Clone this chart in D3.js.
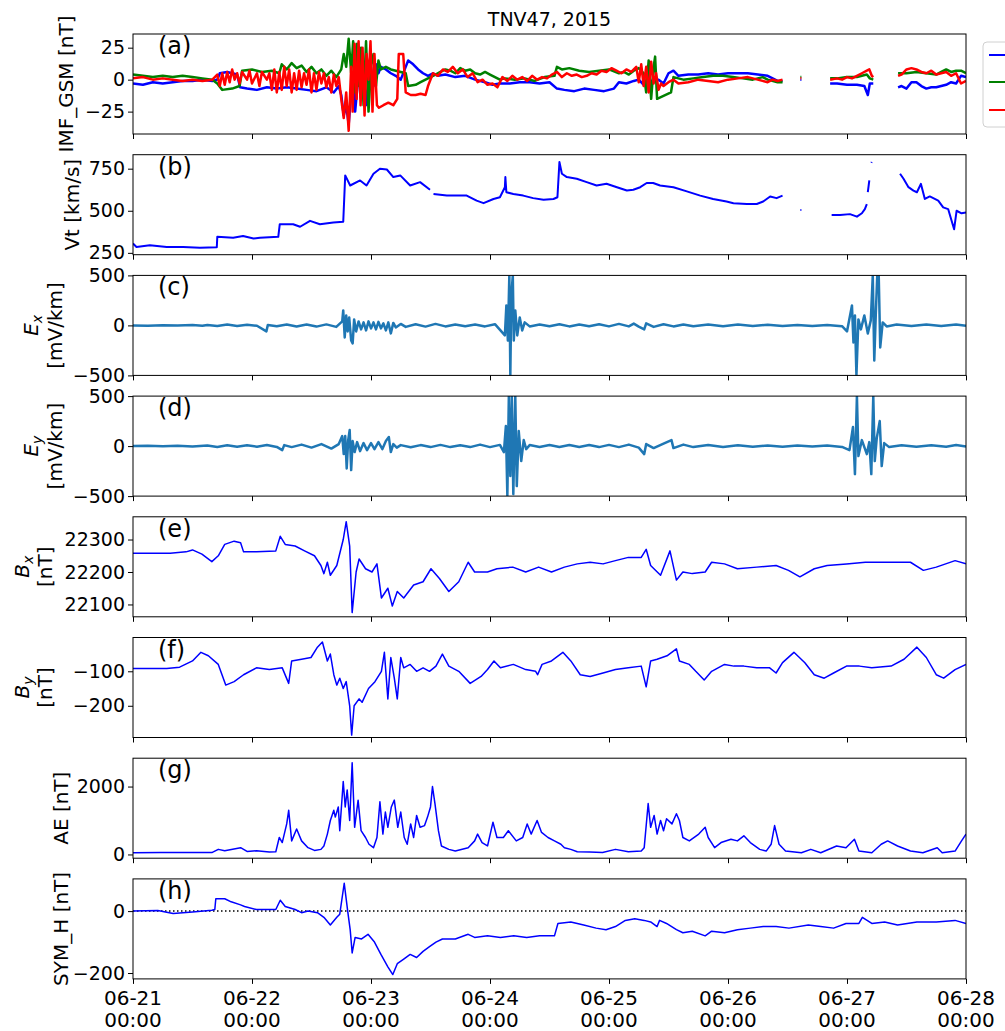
<!DOCTYPE html>
<html lang="en">
<head>
  <meta charset="UTF-8">
  <script src="https://cdn.jsdelivr.net/npm/d3@7"></script>
  <title>TNV47, 2015</title>
  <style>
    body { margin: 0; background: #fff; }
    text { font-family: "DejaVu Sans", sans-serif; fill: #000; }
  </style>
</head>
<body>
  <svg width="1005" height="1031"></svg>
  <script>
    // time axis: hours since 06-21 00:00
    var dayTicks = [0, 24, 48, 72, 96, 120, 144, 168];
    var dayLabels = ["06-21", "06-22", "06-23", "06-24", "06-25", "06-26", "06-27", "06-28"];

    // (a) IMF GSM components [hour, nT], null = data gap
    var imfBx = [[0,-3],[2,-4],[4,-2],[6,-3],[8,-2],[10,-1],[12,-1],[14,0],[16,-1],[17,0],[17.5,5],[19,6],[21,4],[21.6,-6],[23,-7],[25,-8],[27,-6],[29,-7],[31,-6],[33,-7],[35,-8],[37,-9],[39,-6],[40.5,-10],[41.5,-5],[42,-12],[42.5,-28],[43,-20],[43.5,-35],[44,-10],[44.4,5],[44.8,-25],[45.2,-8],[45.6,10],[46,-15],[46.5,5],[47,-20],[47.5,0],[48,10],[48.5,-5],[49,12],[49.5,5],[50,10],[51,8],[52,5],[53,3],[54,0],[55,10],[55.5,15],[56.5,12],[57.5,8],[58.5,5],[59.5,3],[60.5,5],[61.5,3],[63,4],[65,2],[67,3],[69,0],[71,-2],[72.5,-4],[74,-3],[76,-3],[78,-2],[80,-2],[82,-3],[84,-2],[85.5,-7],[87,-8],[89,-9],[91,-7],[93,-8],[95,-9],[97,-7],[98,-2],[99.5,-3],[101,-1],[102,0],[103,-4],[104,0],[105,-2],[106,0],[107,-3],[108,5],[109,7],[110,3],[112,4],[114,4],[116,5],[118,4],[120,5],[122,5],[124,5],[126,4],[128,3],[129,1],[130,-1],[131,-1],[131.2,null],[134.6,0],[134.8,0],[135,null],[140.6,-3],[142,-3],[144,-4],[146,-4],[147.5,-5],[148.2,-12],[148.6,-3],[149.3,-3],[149.5,null],[154.3,-6],[155,-5],[156,-7],[157,-2],[158,-2],[159,-5],[160,-7],[161,-6],[162,-6],[163,-5],[164,-4],[165,-2],[166,-3],[167,3],[168,2]];
    var imfBy = [[0,4],[2,3],[4,2],[6,3],[8,2],[10,3],[12,2],[14,1],[16,0],[17,-3],[18,-8],[20,-7],[21.5,-5],[22,7],[24,8],[26,6],[28,7],[29.5,5],[30,12],[31,8],[32,13],[33,9],[34,11],[35,6],[36,10],[37,5],[38,8],[39,3],[40,7],[41,2],[42,8],[42.5,20],[43,10],[43.5,32],[44,5],[44.4,30],[44.8,-10],[45.2,28],[45.6,-5],[46,25],[46.5,-20],[47,30],[47.5,-25],[48,10],[48.5,20],[49,-5],[49.5,15],[50,8],[51,10],[52,8],[53,7],[54,6],[55,5],[55.5,-5],[57,-4],[58,-2],[59,0],[60,2],[61,4],[62,6],[63,8],[64,7],[65,5],[66,9],[67,7],[68,8],[69,5],[70,4],[71,6],[72,4],[73,2],[74,0],[75,1],[77,0],[79,1],[81,-1],[83,2],[85,3],[85.5,10],[86.5,8],[88,9],[90,7],[92,6],[94,7],[96,8],[98,5],[99,6],[100,4],[101,7],[102,9],[103,5],[103.5,-10],[104,15],[104.5,-15],[105,10],[105.3,18],[105.7,-15],[108.5,-10],[109,2],[111,0],[113,1],[115,2],[117,3],[119,3],[121,2],[123,1],[125,0],[127,2],[128,0],[130,-2],[131,-2],[131.2,null],[134.6,2],[134.8,2],[135,null],[140.6,1],[142,1],[144,2],[146,2],[147,3],[148,4],[148.6,1],[149.3,0],[149.5,null],[154.3,5],[156,5],[158,6],[160,5],[162,4],[163,6],[164,8],[165,6],[166,7],[167,7],[168,5]];
    var imfBz = [[0,1],[2,2],[4,0],[6,1],[8,0],[10,-1],[12,0],[14,-1],[16,0],[17,4],[17.5,-5],[18,5],[18.5,-4],[19,6],[19.5,-2],[20,8],[20.5,0],[21,5],[21.5,-3],[22,6],[23,0],[23.5,7],[24,-3],[25,5],[25.5,-5],[26,6],[27,0],[27.5,5],[28,-8],[28.5,8],[29,-10],[29.5,6],[30,-8],[30.5,10],[31,-5],[31.5,8],[32,-10],[32.5,5],[33,-8],[33.5,7],[34,-6],[34.5,5],[35,-4],[35.5,8],[36,-10],[36.5,5],[37,-8],[37.5,6],[38,-3],[38.5,5],[39,-6],[39.5,2],[40,-10],[40.5,4],[41,-5],[41.5,2],[42,-15],[42.5,-30],[43,-10],[43.5,-40],[44,10],[44.3,-25],[44.7,28],[45.1,-15],[45.5,30],[45.9,-20],[46.3,25],[46.7,-28],[47.1,20],[47.5,0],[47.9,30],[48.3,-25],[48.7,20],[49.2,-20],[49.6,-22],[50.5,-20],[51.5,-18],[52.5,-20],[53.3,-15],[53.6,20],[54.5,20],[55,-10],[56,-12],[57,-12],[58,-11],[59,-12],[59.5,-5],[60.5,5],[61.5,3],[62.5,8],[63.5,6],[64.5,10],[65.5,5],[66.5,8],[67.5,2],[68.5,5],[69.5,-2],[70.5,0],[71.5,-4],[72.5,-3],[73.5,-6],[74.5,2],[75.5,-1],[76.5,3],[77.5,0],[78.5,2],[79.5,-1],[80.5,3],[81.5,0],[82.5,2],[83.5,1],[84.5,4],[85.5,6],[86.5,2],[87.5,5],[88.5,3],[89.5,4],[90.5,2],[91.5,3],[92.5,5],[93.5,4],[94.5,7],[95.5,6],[96.5,9],[97.5,7],[98.5,5],[99.5,8],[100.5,6],[101.5,10],[102,-2],[102.5,12],[103,-5],[103.5,10],[104,-10],[104.5,14],[105,-3],[105.5,5],[106,-8],[106.5,-3],[107,-5],[108,-2],[109,0],[110,-3],[112,-2],[114,0],[116,-1],[118,-2],[120,0],[122,1],[124,2],[126,0],[128,-2],[129,0],[130,-1],[131,0],[131.2,null],[134.6,1],[134.8,1],[135,null],[140.6,0],[142,1],[143,0],[144,2],[145,1],[146,3],[147,5],[148,7],[148.5,8],[149,3],[149.3,2],[149.5,null],[154.3,3],[155,4],[156,8],[157,9],[158,8],[159,6],[160,5],[161,7],[162,4],[163,5],[164,6],[165,3],[166,5],[167,-3],[168,-1]];

    // (b) solar wind speed [hour, km/s]
    var vt = [[0,305],[0.7,285],[3.4,295],[6.8,285],[10.1,285],[13.5,280],[16.9,283],[17,345],[20.2,340],[22.2,350],[24.3,335],[25.6,340],[29.3,345],[29.6,420],[32.3,420],[33.7,405],[35.7,440],[37.7,420],[40.4,430],[42.4,435],[42.8,710],[43.8,650],[45.8,680],[47.1,650],[48.5,720],[49.8,750],[51.2,745],[52.5,700],[53.9,710],[55.9,650],[57.9,670],[59.9,625],[60.3,null],[60.6,600],[63.3,590],[66,590],[67.3,590],[69.3,560],[70.7,545],[72.7,570],[74,580],[75,640],[75.1,700],[75.3,610],[76.7,600],[78.7,590],[80.7,575],[82.8,565],[84.8,570],[85.6,580],[86,790],[86.5,720],[87.5,700],[89.5,690],[91.5,670],[93.5,650],[95.5,660],[97.6,640],[99.6,620],[100.9,625],[102.3,640],[103.6,665],[104.9,665],[106.3,650],[109,640],[111.7,615],[114.4,590],[117,570],[119.7,555],[121.1,545],[123.8,540],[125.8,540],[127.1,555],[127.8,570],[128.5,585],[129.8,575],[131,590],[131.2,null],[134.6,505],[134.8,505],[135,null],[140.9,475],[142.6,475],[144.6,480],[146,465],[147,485],[147.6,510],[148,540],[148.1,null],[148.2,610],[148.5,680],[148.7,null],[148.9,785],[149,790],[149.2,null],[154.7,720],[155.4,690],[156.4,640],[157.4,620],[158.1,610],[158.9,660],[159.7,570],[160.7,585],[161.4,575],[162.4,560],[163.4,520],[164.4,510],[165.6,390],[166.1,500],[167.1,485],[168,490]];

    // (c) E_x and (d) E_y [hour, mV/km]
    var ex = [[0,0],[3,-3],[6,2],[9,-2],[12,4],[14,-4],[15,5],[17,-6],[19,8],[21,-5],[23,6],[25,-4],[26.9,-60],[27.2,5],[29,-8],[31,10],[33,-10],[35,8],[37,-12],[39,10],[41,-15],[42.2,40],[42.4,150],[42.7,-120],[43,100],[43.3,-60],[43.6,80],[44,-150],[44.3,-180],[44.6,60],[45,-60],[45.5,40],[46,-40],[46.5,30],[47,-50],[47.5,40],[48,-30],[48.5,30],[49,-40],[49.5,35],[50,-30],[50.5,20],[51,-50],[51.5,30],[52,-80],[52.5,25],[53,-20],[54,15],[55,-15],[57,12],[59,-12],[61,15],[63,-10],[65,10],[67,-8],[69,8],[71,-10],[73,12],[75,-100],[75.3,200],[75.6,-150],[75.9,500],[76.1,-500],[76.3,300],[76.6,500],[76.8,-150],[77.1,150],[77.5,-100],[78,80],[78.5,-50],[79,30],[80,-10],[82,10],[84,-8],[86,12],[88,-10],[90,10],[92,-8],[94,12],[96,-10],[98,15],[100,-10],[101,18],[102,-12],[103.1,-40],[103.5,20],[105,-15],[107,12],[109,-10],[111,10],[113,-8],[116,8],[119,-8],[122,8],[125,-6],[128,6],[131,-6],[134,5],[137,-5],[140,5],[143,-8],[144,-60],[145,200],[145.3,-170],[145.6,100],[145.9,-500],[146.3,60],[146.8,-40],[147.5,100],[148.2,-80],[148.8,50],[149.2,500],[149.5,-350],[149.8,100],[150.1,500],[150.4,500],[150.7,-220],[151.2,30],[152,-10],[154,8],[157,-6],[160,8],[163,-6],[166,8],[168,-4]];
    var ey = [[0,0],[3,3],[6,-2],[9,3],[12,-4],[15,5],[17,-8],[19,8],[21,-6],[23,8],[25,-6],[27,10],[29,-8],[30.1,-40],[30.5,10],[32,-10],[34,15],[36,-15],[38,20],[40,-25],[41.5,20],[42.2,100],[42.5,-80],[42.8,100],[43.1,-223],[43.4,60],[43.7,160],[44,-240],[44.3,50],[44.7,-60],[45.2,40],[45.8,-50],[46.5,30],[47.2,-40],[48,30],[48.7,-30],[49.5,40],[50.3,-30],[51,50],[51.6,90],[52,-60],[52.5,20],[53.2,-15],[54,10],[56,-12],[58,10],[60,-10],[62,12],[64,-10],[66,8],[68,-10],[70,15],[72,-10],[74,12],[74.8,-60],[75.2,200],[75.5,-500],[75.8,500],[76.1,-300],[76.4,500],[76.7,-480],[77.1,500],[77.4,-400],[77.8,150],[78.3,-150],[78.8,60],[79.3,-30],[80,10],[82,-8],[84,10],[86,-8],[88,10],[90,-8],[92,10],[94,-10],[96,12],[98,-10],[100,15],[102,-15],[103.1,-80],[103.5,20],[105,-20],[107,25],[108.6,60],[109,-20],[111,15],[113,-10],[116,10],[119,-8],[122,8],[125,-6],[128,6],[131,-6],[134,5],[137,-5],[140,6],[143,-8],[144.5,-40],[145.2,190],[145.6,-280],[146,500],[146.3,-100],[147,60],[148,-80],[148.5,40],[148.9,-280],[149.3,500],[149.6,-150],[150,80],[150.6,250],[151,-200],[151.5,30],[152.5,-10],[155,8],[158,-6],[161,8],[164,-6],[166,10],[168,-3]];

    // (e) B_x and (f) B_y ground magnetometer [hour, nT]
    var bx = [[0,22258],[7.5,22258],[10.7,22262],[12,22268],[13.9,22255],[15.9,22232],[17.2,22250],[18.5,22285],[20.4,22295],[21.7,22290],[22.3,22262],[24.9,22262],[28.8,22265],[29.7,22310],[30.7,22285],[32.7,22280],[34.6,22265],[36.6,22250],[37.9,22220],[38.5,22195],[39.2,22230],[39.8,22190],[41.1,22220],[42.4,22300],[43,22355],[43.7,22280],[44.2,22075],[45,22200],[45.6,22240],[46.9,22210],[48.2,22200],[49.2,22225],[50.1,22120],[51.4,22150],[52.3,22095],[53.3,22140],[54.6,22120],[56.6,22160],[58.5,22170],[60.1,22210],[61.8,22180],[63.7,22140],[65.7,22170],[67.6,22230],[68.9,22200],[71.5,22200],[73.4,22210],[76.6,22215],[79.2,22200],[81.8,22215],[84.4,22200],[87,22215],[89.6,22225],[92.2,22230],[94.8,22225],[97.3,22235],[99.9,22245],[102.5,22245],[103.5,22270],[104.4,22220],[106.4,22190],[108.3,22265],[109.6,22175],[110.9,22200],[112.8,22195],[115.4,22200],[116.7,22230],[119.3,22225],[121.9,22210],[125.8,22215],[129.7,22220],[132.2,22205],[134.5,22185],[137.4,22210],[140,22220],[143.9,22225],[147.7,22230],[151.6,22230],[156.8,22230],[159.4,22205],[162,22215],[165.8,22235],[168,22225]];
    var by = [[0,-92],[6.8,-92],[9.4,-88],[12,-70],[13.7,-45],[15.2,-55],[17.2,-80],[18.7,-140],[20.4,-130],[22.3,-110],[24.9,-90],[27.5,-95],[30.1,-90],[31.4,-135],[32,-70],[34,-65],[35.9,-60],[37.2,-30],[38.2,-15],[39.2,-70],[39.8,-50],[40.5,-110],[41.1,-140],[41.7,-120],[42.4,-150],[43,-130],[43.7,-200],[44.1,-285],[44.6,-200],[45.6,-180],[46.2,-190],[47.5,-150],[48.8,-130],[50.1,-100],[50.7,-45],[51.4,-180],[52,-60],[52.7,-120],[53.3,-180],[54,-60],[54.6,-90],[55.9,-80],[57.2,-100],[58.5,-90],[59.8,-100],[61.1,-85],[62.4,-50],[63.7,-85],[65.7,-100],[68,-135],[70.2,-115],[71.5,-95],[72.8,-70],[74.1,-90],[76.7,-80],[79.2,-95],[81.2,-100],[81.6,-110],[82.5,-80],[84.4,-70],[86.7,-45],[88.3,-70],[90.2,-110],[92.2,-115],[94.8,-105],[97.3,-95],[99.9,-90],[102.5,-85],[103.5,-145],[104.4,-70],[105.7,-65],[107.7,-55],[109.6,-35],[110.2,-70],[112.2,-80],[113.5,-100],[115.2,-125],[116.7,-100],[119.3,-80],[121.2,-85],[123.2,-85],[125.8,-90],[128.4,-90],[129.7,-105],[131,-75],[133.3,-45],[135.5,-75],[137.4,-110],[139.4,-120],[141.3,-105],[143.9,-85],[146.5,-85],[149,-90],[152.9,-85],[155.5,-65],[158.1,-30],[160,-60],[162,-110],[163.5,-120],[165.8,-95],[168,-80]];

    // (g) AE index [hour, nT]
    var ae = [[0,50],[5.6,55],[12,60],[15.9,55],[17.2,150],[18.5,110],[21.7,200],[23,90],[24.9,110],[27.5,70],[28.8,80],[29.5,500],[30.1,350],[31,900],[31.4,1300],[32,400],[33,750],[34,400],[35.3,200],[36.6,120],[37.9,150],[38.5,250],[39.2,600],[39.8,1000],[40.5,1300],[40.8,1100],[41.4,1400],[41.7,700],[42.4,2150],[42.8,1400],[43.2,1900],[43.7,1000],[44.2,2700],[44.7,800],[45.4,1600],[46,700],[46.9,500],[47.6,300],[48.5,200],[49.2,500],[49.8,1550],[50.4,600],[50.9,1250],[51.4,800],[52.1,1400],[52.7,1600],[53.4,800],[54,1250],[54.7,500],[55.3,300],[56,900],[56.6,500],[57.2,1150],[57.9,800],[58.8,850],[59.4,1100],[60,1400],[60.4,2000],[60.9,1500],[61.6,700],[62.2,250],[63.7,150],[65,100],[67.6,200],[68.9,400],[69.5,600],[70.4,350],[71.5,250],[72.6,950],[73.4,500],[74.7,500],[75.7,700],[77.3,400],[78.6,500],[79.5,900],[80.3,600],[81.5,1000],[82.4,650],[83.7,500],[85,400],[86.3,300],[87,200],[88.3,150],[89.6,80],[92.1,70],[94.7,60],[97.3,150],[99.9,80],[102.5,100],[103.1,200],[103.9,1500],[104.4,800],[105.1,1150],[105.7,600],[106.4,1000],[107,700],[107.6,1050],[108.7,900],[109.6,1200],[110.2,1000],[110.9,500],[112.2,400],[114.1,600],[115.4,800],[116,500],[117.3,200],[118.6,350],[120.6,450],[121.9,400],[123.2,550],[124.5,350],[126.4,150],[127.7,100],[128.7,300],[129.4,850],[130.3,300],[131.6,100],[134.8,50],[136.7,150],[138.7,50],[141.9,250],[143.8,200],[145.5,450],[146.4,100],[149,50],[150.9,300],[152.2,400],[154.2,250],[156.8,100],[159.3,50],[162.2,200],[163.2,50],[165.8,100],[167.1,400],[168,600]];

    // (h) SYM-H index [hour, nT]
    var symh = [[0,0],[5,2],[8.1,-8],[12,-3],[15.9,3],[16.5,5],[16.7,40],[18.5,40],[19.8,30],[21.7,20],[22.5,15],[24.9,5],[28.8,5],[29.7,35],[30.7,15],[32.7,5],[34,-5],[35.3,0],[37.2,-5],[38.5,-20],[39.8,-45],[41.1,-20],[41.7,-10],[42.6,90],[43.3,0],[43.8,-60],[44.2,-135],[44.8,-85],[46.1,-90],[47.4,-75],[48.7,-100],[50,-140],[51.4,-180],[52.4,-205],[53.3,-170],[54.6,-155],[55.9,-140],[57.2,-150],[58.5,-130],[59.8,-115],[61.1,-100],[62.4,-90],[65,-90],[67.6,-75],[68.9,-85],[71.5,-80],[74.1,-85],[76.8,-80],[79.4,-85],[82,-80],[85,-80],[85.7,-40],[88.3,-35],[90.9,-45],[93.4,-55],[95.4,-60],[97.3,-50],[99.3,-30],[101.2,-25],[103.1,-30],[104.4,-35],[105.7,-50],[106.2,-30],[107.6,-40],[109.6,-60],[110.9,-70],[112.8,-65],[115.4,-80],[116.7,-65],[119.3,-70],[121.9,-60],[124.5,-55],[127.1,-50],[129.7,-50],[132.3,-55],[136.2,-45],[138.7,-50],[141.3,-55],[143.8,-40],[146.4,-40],[147.1,-20],[149,-40],[151.6,-35],[154.2,-45],[158.1,-35],[162,-35],[165.8,-30],[168,-40]];

    var svg = d3.select("svg");
    var left = 133, right = 966, top0 = 34, step = 120.7, ph = 100;
    var x = d3.scaleLinear().domain([0, 168]).range([left, right]);
    var fmt = d3.format("d"); // plain integers with a real minus sign

    svg.append("text")
      .attr("x", (left + right) / 2).attr("y", 26)
      .attr("text-anchor", "middle").style("font-size", "19px")
      .text("TNV47, 2015");

    // one panel: frame, ticks, label, clip; returns y scale and group
    function panel(i, domain, yticks, tag, ylab) {
      var y0 = top0 + i * step;
      var y = d3.scaleLinear().domain(domain).range([y0 + ph, y0]);
      var g = svg.append("g");

      svg.append("clipPath").attr("id", "clip" + i)
        .append("rect").attr("x", left).attr("y", y0).attr("width", right - left).attr("height", ph);
      var plot = g.append("g").attr("clip-path", "url(#clip" + i + ")");

      var ya = g.append("g").attr("transform", `translate(${left},0)`)
        .call(d3.axisLeft(y).tickValues(yticks).tickFormat(fmt).tickSize(5).tickPadding(3).tickSizeOuter(0));
      ya.select(".domain").remove();
      ya.selectAll("text").style("font-size", "19px").style("font-family", "DejaVu Sans");

      var xa = g.append("g").attr("transform", `translate(0,${y0 + ph})`)
        .call(d3.axisBottom(x).tickValues(dayTicks).tickSize(5).tickFormat("").tickSizeOuter(0));
      xa.select(".domain").remove();

      g.append("rect").attr("x", left).attr("y", y0).attr("width", right - left).attr("height", ph)
        .attr("fill", "none").attr("stroke", "#000").attr("stroke-width", 1);

      g.append("text").attr("x", left + 25).attr("y", y0 + 20)
        .style("font-size", "24px").text(tag);

      // y label lines, outermost first
      ylab.lines.forEach(function (ln, k) {
        var t = g.append("text")
          .attr("transform", `translate(${ylab.x[k]},${y0 + ph / 2}) rotate(-90)`)
          .attr("text-anchor", "middle").style("font-size", "20px");
        if (ln.sym) {
          t.append("tspan").style("font-style", "italic").text(ln.sym);
          t.append("tspan").style("font-style", "italic").style("font-size", "14px")
            .attr("dy", 4).text(ln.sub);
        } else {
          t.text(ln);
        }
      });
      return { y: y, plot: plot, y0: y0 };
    }

    function draw(p, data, color, width) {
      var line = d3.line()
        .defined(d => d[1] != null)
        .x(d => x(d[0])).y(d => p.y(d[1]));
      p.plot.append("path").datum(data)
        .attr("d", line).attr("fill", "none")
        .attr("stroke", color).attr("stroke-width", width)
        .attr("stroke-linejoin", "round");
    }

    var pa = panel(0, [-42.5, 35.7], [-25, 0, 25], "(a)", { lines: ["IMF_GSM [nT]"], x: [73] });
    draw(pa, imfBx, "#0000ff", 2.5);
    draw(pa, imfBy, "#008000", 2.5);
    draw(pa, imfBz, "#ff0000", 2.5);

    var pb = panel(1, [239, 833], [250, 500, 750], "(b)", { lines: ["Vt [km/s]"], x: [79] });
    draw(pb, vt, "#0000ff", 2);

    var pc = panel(2, [-500, 500], [-500, 0, 500], "(c)", { lines: [{ sym: "E", sub: "x" }, "[mV/km]"], x: [38, 62] });
    draw(pc, ex, "#1f77b4", 2.5);

    var pd = panel(3, [-500, 500], [-500, 0, 500], "(d)", { lines: [{ sym: "E", sub: "y" }, "[mV/km]"], x: [38, 62] });
    draw(pd, ey, "#1f77b4", 2.5);

    var pe = panel(4, [22062, 22370], [22100, 22200, 22300], "(e)", { lines: [{ sym: "B", sub: "x" }, "[nT]"], x: [29, 52] });
    draw(pe, bx, "#0000ff", 1.5);

    var pf = panel(5, [-292, -2], [-200, -100], "(f)", { lines: [{ sym: "B", sub: "y" }, "[nT]"], x: [29, 52] });
    draw(pf, by, "#0000ff", 1.5);

    var pg = panel(6, [-110, 2835], [0, 2000], "(g)", { lines: ["AE [nT]"], x: [68] });
    draw(pg, ae, "#0000ff", 1.5);

    var ph8 = panel(7, [-219, 104], [-200, 0], "(h)", { lines: ["SYM_H [nT]"], x: [68] });
    ph8.plot.append("line")
      .attr("x1", left).attr("x2", right)
      .attr("y1", ph8.y(0)).attr("y2", ph8.y(0))
      .attr("stroke", "#000").attr("stroke-width", 1.5).attr("stroke-dasharray", "1.5,2.5");
    draw(ph8, symh, "#0000ff", 1.5);

    // two-line date labels under the bottom panel
    var lab = svg.append("g").selectAll("text").data(dayTicks).enter().append("text")
      .attr("text-anchor", "middle").style("font-size", "20px");
    lab.append("tspan").attr("x", d => x(d)).attr("y", 1005).text((d, i) => dayLabels[i]);
    lab.append("tspan").attr("x", d => x(d)).attr("y", 1027).text("00:00");

    // legend (clipped by the figure edge)
    var leg = svg.append("g");
    leg.append("rect").attr("x", 983).attr("y", 42).attr("width", 80).attr("height", 85)
      .attr("rx", 4).attr("fill", "#fff").attr("stroke", "#d0d0d0");
    [["#0000ff", 55], ["#008000", 82], ["#ff0000", 110]].forEach(function (e) {
      leg.append("line").attr("x1", 989).attr("x2", 1029).attr("y1", e[1]).attr("y2", e[1])
        .attr("stroke", e[0]).attr("stroke-width", 2);
    });
  </script>
</body>
</html>
